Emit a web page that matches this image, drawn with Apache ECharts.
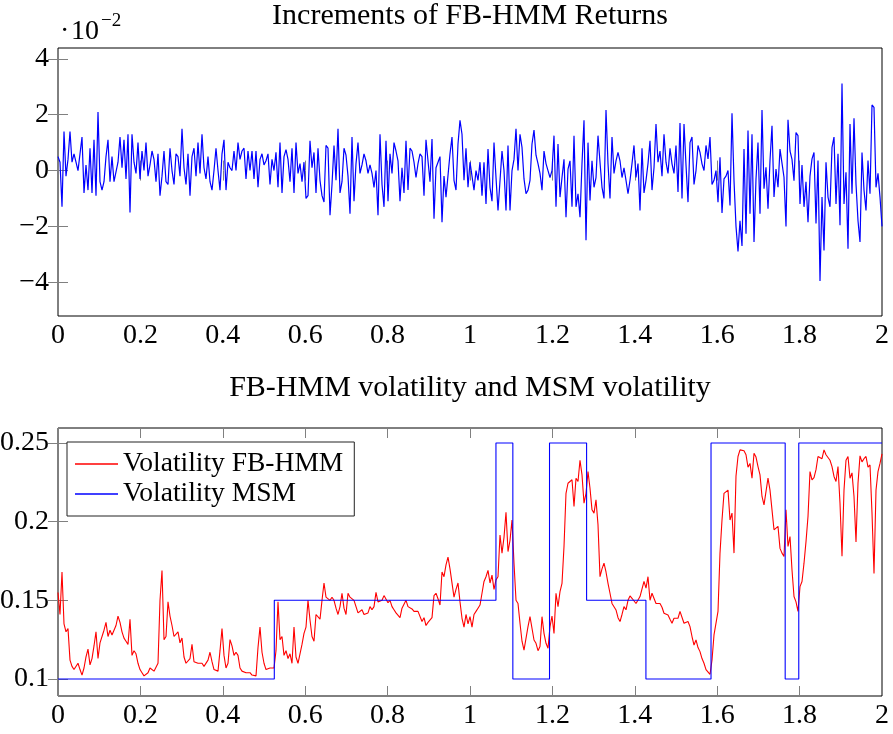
<!DOCTYPE html>
<html>
<head>
<meta charset="utf-8">
<script src="https://cdn.jsdelivr.net/npm/echarts@6/dist/echarts.min.js"></script>
<style>
html,body{margin:0;padding:0;background:#fff;}
#chart{width:893px;height:734px;}
</style>
</head>
<body>
<div id="chart"></div>
<script>
// ---- data ----
const timeStart = 0;
const timeEnd = 2;
// increments of FB-HMM returns, in units of 1e-2, equally spaced over [0, 2]
const returnsE2 = [
0.5,0.3,-1.3,1.4,-0.2,0.4,1.4,0.3,0.6,0.3,
0.0,0.6,1.2,-0.8,0.2,-0.7,0.8,-0.8,1.1,-0.9,
2.1,-0.4,-0.7,-0.4,0.5,1.1,-0.4,0.5,-0.4,-0.4,
0.3,1.2,0.1,1.1,-0.3,1.3,-1.5,1.3,0.3,-0.1,
1.0,-0.3,0.7,0.0,1.0,-0.2,0.2,0.7,0.4,-0.4,
0.6,-0.9,-0.2,0.7,-0.4,-0.5,0.8,0.0,-0.5,0.6,
0.5,-0.2,1.5,0.1,-0.5,0.6,-0.9,0.5,0.8,-0.2,
1.0,-0.1,1.3,0.1,-0.3,0.5,-0.4,-0.7,0.0,0.8,
0.0,-0.7,0.6,1.1,-0.7,0.3,0.1,0.0,0.7,0.0,
1.0,0.4,0.7,0.8,-0.3,0.7,0.0,0.7,-0.3,0.7,
-0.6,0.4,0.6,0.2,0.35,0.6,-0.5,0.4,0.0,0.65,
-0.6,1.0,-0.8,0.5,0.75,0.4,-0.4,0.8,-0.8,1.0,
-0.1,0.25,-0.4,0.3,-1.0,-0.9,1.07,0.1,0.65,-0.8,
0.8,-0.35,-0.9,-1.13,0.9,0.8,-1.6,-0.5,0.9,-0.35,
1.5,-0.8,-0.4,0.8,0.55,-0.2,-1.55,1.2,-1.1,0.25,
1.0,-0.1,0.2,0.6,0.35,-0.1,0.2,-0.1,-0.6,0.0,
-1.6,1.3,-0.5,-1.3,1.07,-1.1,0.6,-0.1,1.0,0.7,
0.35,-1.1,0.1,-0.8,1.07,-0.7,0.8,0.7,0.3,-0.25,
0.25,0.6,0.5,-0.9,1.1,0.35,-0.4,1.13,-1.73,0.1,
0.3,0.5,-1.85,-0.2,-0.95,-1.0,0.6,1.2,-0.35,-0.7,
0.95,1.8,1.3,-0.35,0.8,-0.6,0.3,0.25,-0.7,0.0,
-0.35,0.3,-0.9,0.3,-1.2,0.77,-0.6,-1.1,1.0,-0.25,
-1.43,-1.5,0.7,0.0,-1.43,0.9,-1.43,0.0,0.4,1.5,
0.0,1.3,0.83,-0.3,-0.83,-0.7,-0.35,0.95,1.45,0.55,
0.25,-0.1,-0.7,0.7,0.25,0.0,-0.25,0.0,1.25,-1.3,
0.95,-0.95,-0.25,0.4,-1.67,0.05,0.35,-1.3,1.25,-1.3,
-0.83,-1.67,0.25,1.8,-2.5,1.0,-1.07,0.35,-0.6,-0.25,
1.25,0.3,-0.6,-1.0,2.17,0.25,-1.0,1.2,-0.1,0.35,
0.65,0.35,-0.25,0.1,-0.35,-0.83,-0.35,0.25,0.9,-0.25,
0.25,-1.43,0.8,-0.8,-0.35,0.25,1.07,-0.7,0.1,1.67,
0.3,0.7,-0.2,1.3,0.3,-0.1,0.8,0.24,-0.1,0.9,
-0.77,1.7,-1.0,1.67,0.2,-1.13,1.0,1.2,-0.5,0.0,
0.9,0.65,0.24,0.0,0.9,0.42,1.2,-0.5,-0.35,0.0,
-1.13,0.48,-1.52,-0.3,-0.2,0.0,-1.25,2.05,-0.36,-2.0,
-2.9,-1.8,-2.7,0.77,-2.26,1.43,-1.55,1.3,-2.56,-0.3,
1.0,-1.55,2.17,-0.65,0.12,-1.37,0.36,1.6,-0.95,0.05,
-0.6,0.77,0.7,-0.24,-2.0,1.82,0.7,0.4,-0.36,1.36,
1.25,-1.2,0.2,-1.3,-0.4,-1.85,-0.2,0.42,0.65,-1.9,
0.36,-3.96,-0.95,-2.86,0.3,-0.95,-1.3,0.83,1.2,-1.2,
0.6,-1.96,3.12,-1.2,-0.06,-2.8,1.67,-0.83,1.87,-0.48,
-1.8,-2.56,0.65,-0.7,-1.43,0.36,-0.83,2.35,2.26,-0.6,
-0.1,-0.95,-2.0
];
// FB-HMM volatility, equally spaced over [0, 2]
const volFBHMM = [
0.155,0.141,0.168,0.135,0.130,0.132,0.112,0.108,0.106,0.105,
0.110,0.106,0.1025,0.107,0.114,0.119,0.109,0.113,0.121,0.130,
0.113,0.123,0.124,0.131,0.136,0.127,0.131,0.128,0.127,0.134,
0.140,0.136,0.130,0.126,0.124,0.122,0.138,0.115,0.118,0.116,
0.110,0.106,0.104,0.102,0.102,0.104,0.107,0.107,0.105,0.105,
0.110,0.150,0.169,0.125,0.127,0.149,0.140,0.134,0.127,0.128,
0.130,0.123,0.126,0.114,0.110,0.109,0.113,0.122,0.111,0.112,
0.110,0.110,0.110,0.108,0.107,0.112,0.117,0.111,0.106,0.107,
0.105,0.118,0.132,0.115,0.107,0.110,0.125,0.121,0.115,0.117,
0.115,0.107,0.105,0.104,0.104,0.104,0.104,0.1025,0.1025,0.102,
0.120,0.133,0.117,0.110,0.106,0.105,0.107,0.108,0.107,0.118,
0.149,0.125,0.127,0.115,0.118,0.113,0.116,0.110,0.133,0.114,
0.110,0.116,0.122,0.129,0.133,0.150,0.1375,0.127,0.124,0.141,
0.140,0.138,0.150,0.161,0.152,0.152,0.150,0.152,0.150,0.145,
0.141,0.146,0.1545,0.145,0.141,0.1545,0.152,0.153,0.150,0.146,
0.142,0.141,0.144,0.141,0.140,0.142,0.146,0.144,0.146,0.155,
0.149,0.150,0.150,0.153,0.152,0.1485,0.150,0.146,0.144,0.142,
0.142,0.139,0.145,0.145,0.150,0.146,0.145,0.1445,0.143,0.144,
0.143,0.142,0.1365,0.139,0.134,0.136,0.135,0.139,0.153,0.1545,
0.151,0.147,0.168,0.165,0.1725,0.1775,0.170,0.169,0.152,0.157,
0.161,0.149,0.1386,0.133,0.141,0.135,0.1396,0.133,0.141,0.143,
0.145,0.147,0.1545,0.162,0.165,0.169,0.161,0.166,0.157,0.163,
0.165,0.1915,0.180,0.190,0.206,0.181,0.188,0.201,0.1736,0.150,
0.148,0.1354,0.124,0.1184,0.1195,0.1333,0.1396,0.1396,0.1248,0.1227,
0.118,0.1206,0.1396,0.129,0.1227,0.1195,0.1333,0.140,0.129,0.1545,
0.146,0.1555,0.1608,0.1842,0.218,0.2244,0.2234,0.2266,0.2096,0.2276,
0.2255,0.239,0.2297,0.2117,0.218,0.2318,0.2212,0.2075,0.2054,0.2138,
0.198,0.165,0.170,0.1736,0.168,0.1608,0.1545,0.148,0.1477,0.1439,
0.139,0.1365,0.141,0.146,0.144,0.150,0.1528,0.1513,0.1524,0.148,
0.1488,0.1524,0.1534,0.162,0.1577,0.165,0.150,0.1545,0.1555,0.148,
0.148,0.148,0.1456,0.1418,0.141,0.1407,0.138,0.1354,0.1386,0.1396,
0.1386,0.143,0.1418,0.1354,0.1354,0.1365,0.1333,0.127,0.1216,0.1248,
0.120,0.1174,0.113,0.110,0.106,0.1068,0.103,0.112,0.128,0.127,
0.143,0.180,0.201,0.218,0.218,0.220,0.201,0.2054,0.180,0.229,
0.2414,0.2456,0.2467,0.245,0.2425,0.2346,0.237,0.2276,0.2435,0.241,
0.235,0.2297,0.216,0.2107,0.2107,0.2276,0.220,0.2075,0.1948,0.1948,
0.197,0.183,0.180,0.1778,0.2075,0.1842,0.1905,0.1693,0.1524,0.149,
0.143,0.1587,0.162,0.1736,0.1873,0.2033,0.2318,0.2266,0.228,0.233,
0.2414,0.2425,0.240,0.2456,0.2425,0.2414,0.239,0.235,0.2287,0.2255,
0.235,0.2117,0.178,0.220,0.239,0.2414,0.2276,0.231,0.216,0.187,
0.2244,0.2418,0.238,0.240,0.2414,0.2346,0.236,0.2054,0.167,0.220,
0.2318,0.237,0.243
];
// MSM volatility: regime change times and the level held from each one
const msmBreaks = [0, 0.525, 1.063, 1.104, 1.193, 1.283, 1.427, 1.585, 1.765, 1.798, 2];
const msmLevels = [0.1, 0.15, 0.25, 0.1, 0.25, 0.15, 0.1, 0.25, 0.1, 0.25];
// tick values
const xTicks = [0, 0.2, 0.4, 0.6, 0.8, 1, 1.2, 1.4, 1.6, 1.8, 2];
const topYTicks = [-4, -2, 0, 2, 4];
const botYTicks = [0.1, 0.15, 0.2, 0.25];

// ---- build series data ----
function spread(values) {
  const n = values.length - 1;
  return values.map((v, i) => [timeStart + (timeEnd - timeStart) * i / n, v]);
}
const retData = spread(returnsE2);
const volData = spread(volFBHMM);
const msmData = msmLevels.map((lv, i) => [msmBreaks[i], lv]);
msmData.push([msmBreaks[msmBreaks.length - 1], msmLevels[msmLevels.length - 1]]);

const FONT = '"Liberation Serif", "DejaVu Serif", serif';
const FS = 28;
const tickColor = '#808080';

function xAxisDef(gridIndex, pos, labels) {
  return {
    type: 'value', gridIndex, position: pos, min: 0, max: 2,
    axisLine: {show: false},
    splitLine: {show: false},
    axisTick: {show: true, inside: true, length: 10, customValues: xTicks, lineStyle: {color: tickColor, width: 1}},
    axisLabel: {show: labels, customValues: xTicks, margin: 6, color: '#000', fontFamily: FONT, fontSize: FS,
      formatter: v => String(+(+v).toFixed(1))}
  };
}
function yAxisDef(gridIndex, pos, labels, min, max, ticks, fmt) {
  return {
    type: 'value', gridIndex, position: pos, min, max,
    axisLine: {show: false},
    splitLine: {show: false},
    axisTick: {show: true, inside: true, length: 10, customValues: ticks, lineStyle: {color: tickColor, width: 1}},
    axisLabel: {show: labels, customValues: ticks, margin: 9, color: '#000', fontFamily: FONT, fontSize: FS, formatter: fmt}
  };
}

const chart = echarts.init(document.getElementById('chart'), null, {renderer: 'canvas'});
chart.setOption({
  animation: false,
  backgroundColor: '#fff',
  grid: [
    {left: 58, right: 11, top: 48, height: 268, show: true, borderColor: '#000', borderWidth: 1, containLabel: false, outerBoundsMode: 'none'},
    {left: 58, right: 11, top: 428, height: 268, show: true, borderColor: '#000', borderWidth: 1, containLabel: false, outerBoundsMode: 'none'}
  ],
  xAxis: [
    xAxisDef(0, 'bottom', true),
    xAxisDef(0, 'top', false),
    xAxisDef(1, 'bottom', true),
    xAxisDef(1, 'top', false)
  ],
  yAxis: [
    yAxisDef(0, 'left', true, -5.21, 4.39, topYTicks, v => (v < 0 ? '\u2212' + Math.abs(v) : String(v))),
    yAxisDef(0, 'right', false, -5.21, 4.39, topYTicks, v => String(v)),
    yAxisDef(1, 'left', true, 0.0892, 0.2595, botYTicks, v => String(+(+v).toFixed(2))),
    yAxisDef(1, 'right', false, 0.0892, 0.2595, botYTicks, v => String(v))
  ],
  legend: {
    left: 67, top: 442, orient: 'vertical',
    data: ['Volatility FB-HMM', 'Volatility MSM'],
    icon: 'rect', itemWidth: 43, itemHeight: 1.5, itemGap: 0,
    padding: [7, 11, 7, 8],
    borderColor: '#222', borderWidth: 1, backgroundColor: '#fff',
    textStyle: {fontFamily: FONT, fontSize: 27.5, color: '#000', lineHeight: 30}
  },
  graphic: [
    {type: 'text', x: 470, y: 16, style: {text: 'Increments of FB-HMM Returns', fill: '#000', fontFamily: FONT, fontSize: 30, align: 'center', verticalAlign: 'middle'}},
    {type: 'text', x: 470, y: 388, style: {text: 'FB-HMM volatility and MSM volatility', fill: '#000', fontFamily: FONT, fontSize: 30, align: 'center', verticalAlign: 'middle'}},
    {type: 'text', x: 60, y: 32, style: {text: '\u00b7', fill: '#000', fontFamily: FONT, fontSize: FS, align: 'left', verticalAlign: 'middle'}},
    {type: 'text', x: 71, y: 32, style: {text: '10', fill: '#000', fontFamily: FONT, fontSize: FS, align: 'left', verticalAlign: 'middle'}},
    {type: 'text', x: 101, y: 21, style: {text: '\u22122', fill: '#000', fontFamily: FONT, fontSize: 19, align: 'left', verticalAlign: 'middle'}}
  ],
  series: [
    {type: 'line', name: 'Increments', xAxisIndex: 0, yAxisIndex: 0, data: retData, showSymbol: false, symbol: 'none',
      lineStyle: {color: '#0000ff', width: 1.2}, itemStyle: {color: '#0000ff'}, silent: true},
    {type: 'line', name: 'Volatility FB-HMM', xAxisIndex: 2, yAxisIndex: 2, data: volData, showSymbol: false, symbol: 'none',
      lineStyle: {color: '#ff0000', width: 1.1}, itemStyle: {color: '#ff0000'}, silent: true},
    {type: 'line', name: 'Volatility MSM', xAxisIndex: 2, yAxisIndex: 2, data: msmData, step: 'end', showSymbol: false, symbol: 'none',
      lineStyle: {color: '#0000ff', width: 1.1}, itemStyle: {color: '#0000ff'}, silent: true}
  ]
});
</script>
</body>
</html>
